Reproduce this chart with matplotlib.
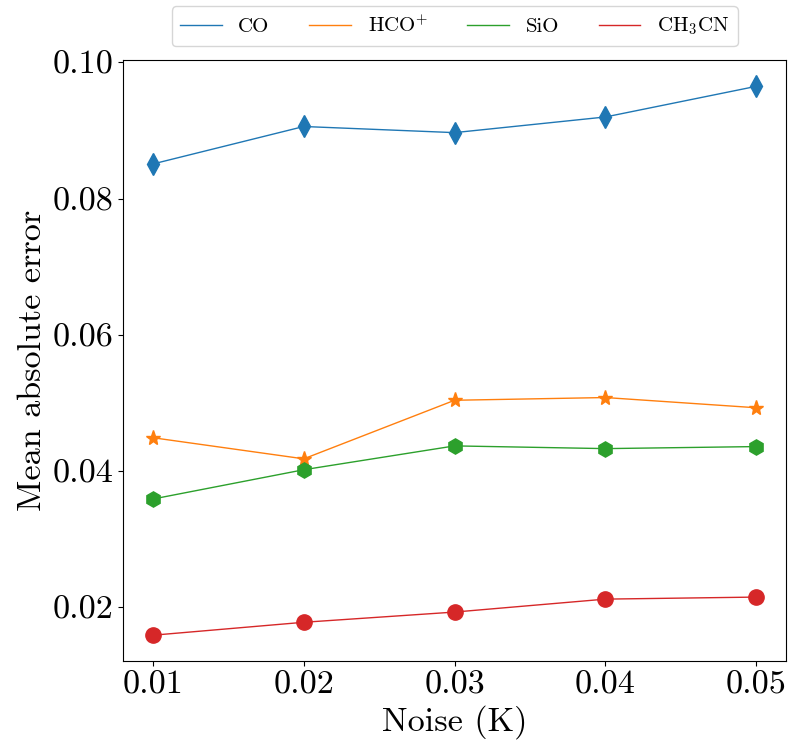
import matplotlib
matplotlib.use("Agg")
import matplotlib.pyplot as plt

plt.rcParams['font.family'] = 'serif'
plt.rcParams['font.serif'] = ['cmr10']
plt.rcParams['mathtext.fontset'] = 'cm'
plt.rcParams['axes.unicode_minus'] = False
plt.rcParams['axes.formatter.use_mathtext'] = True

noise = [0.01, 0.02, 0.03, 0.04, 0.05]
co = [0.0851, 0.0906, 0.0897, 0.0920, 0.0965]
hco = [0.0449, 0.0418, 0.0504, 0.0508, 0.0493]
sio = [0.0359, 0.0402, 0.0437, 0.0433, 0.0436]
ch3cn = [0.0159, 0.0178, 0.0193, 0.0212, 0.0215]
labels = ['CO', r'HCO$^{+}$', 'SiO', r'CH$_3$CN']
markers = ['d', '*', 'h', 'o']
colors = ['#1f77b4', '#ff7f0e', '#2ca02c', '#d62728']
sizes = [11, 11, 11, 11]

fig = plt.figure(figsize=(7.92, 7.47), dpi=100)
ax = fig.add_axes([0.155, 0.115, 0.838, 0.805])

for ys, lab, m, c, s in zip([co, hco, sio, ch3cn], labels, markers, colors, sizes):
    ax.plot(noise, ys, color=c, lw=1, label=lab)
    ax.plot(noise, ys, linestyle='none', marker=m, color=c, markersize=s)

ax.set_xticks(noise)
ax.set_xticklabels(['0.01', '0.02', '0.03', '0.04', '0.05'])
ax.set_yticks([0.02, 0.04, 0.06, 0.08, 0.10])
ax.set_yticklabels(['0.02', '0.04', '0.06', '0.08', '0.10'])
ax.set_xlim(0.0080, 0.0520)
ax.set_ylim(0.0121, 0.1004)
ax.tick_params(labelsize=24.6)
ax.set_xlabel('Noise (K)', fontsize=24.6)
ax.set_ylabel('Mean absolute error', fontsize=24.6)

ax.legend(loc='lower center', bbox_to_anchor=(0.5, 1.006), ncol=4, fontsize=15,
          handlelength=2.0, columnspacing=1.9, frameon=True)

fig.savefig('out.png', dpi=100)
